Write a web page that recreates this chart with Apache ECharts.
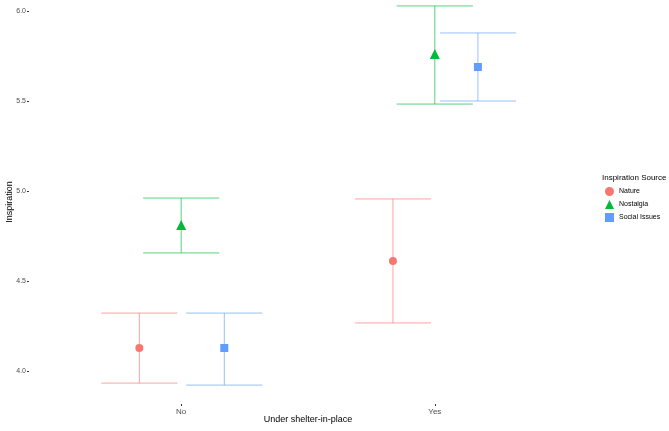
<!DOCTYPE html>
<html>
<head>
<meta charset="utf-8">
<script src="https://cdn.jsdelivr.net/npm/echarts@6/dist/echarts.min.js"></script>
<style>
  html, body { margin: 0; padding: 0; background: #fff; }
  #chart { width: 669px; height: 431px; }
</style>
</head>
<body>
<div id="chart"></div>
<script>
// x categories
const categories = ['No', 'Yes']
const yTicks = [4.0, 4.5, 5.0, 5.5, 6.0]

// mean and error bar bounds per source, one value per category
const natureMean = [4.128, 4.611]
const natureLow = [3.933, 4.267]
const natureHigh = [4.322, 4.956]

const nostalgiaMean = [4.811, 5.761]
const nostalgiaLow = [4.656, 5.483]
const nostalgiaHigh = [4.961, 6.028]

const socialMean = [4.128, 5.689]
const socialLow = [3.922, 5.500]
const socialHigh = [4.322, 5.878]

const groups = [
  { name: 'Nature', color: '#F8766D', symbol: 'circle', size: 8, dodge: -0.165, mean: natureMean, low: natureLow, high: natureHigh },
  { name: 'Nostalgia', color: '#00BA38', symbol: 'triangle', size: 10, dodge: 0, mean: nostalgiaMean, low: nostalgiaLow, high: nostalgiaHigh },
  { name: 'Social Issues', color: '#619CFF', symbol: 'rect', size: 8, dodge: 0.17, mean: socialMean, low: socialLow, high: socialHigh }
]

const capHalf = 0.15
const font = 'Liberation Sans, Arial, sans-serif'

const chart = echarts.init(document.getElementById('chart'))

const series = []
groups.forEach(g => {
  // error bars
  series.push({
    name: g.name,
    type: 'custom',
    renderItem: (params, api) => {
      const x = api.value(0)
      const lo = api.coord([x, api.value(1)])
      const hi = api.coord([x, api.value(2)])
      const loL = api.coord([x - capHalf, api.value(1)])
      const loR = api.coord([x + capHalf, api.value(1)])
      const hiL = api.coord([x - capHalf, api.value(2)])
      const hiR = api.coord([x + capHalf, api.value(2)])
      const style = { stroke: g.color, lineWidth: 1, opacity: 0.65 }
      return {
        type: 'group',
        children: [
          { type: 'line', shape: { x1: lo[0], y1: lo[1], x2: hi[0], y2: hi[1] }, style },
          { type: 'line', shape: { x1: loL[0], y1: loL[1], x2: loR[0], y2: loR[1] }, style },
          { type: 'line', shape: { x1: hiL[0], y1: hiL[1], x2: hiR[0], y2: hiR[1] }, style }
        ]
      }
    },
    encode: { x: 0, y: [1, 2] },
    data: categories.map((c, i) => [i + 1 + g.dodge, g.low[i], g.high[i]]),
    z: 1,
    silent: true
  })
  // points
  series.push({
    name: g.name,
    type: 'scatter',
    symbol: g.symbol,
    symbolSize: g.size,
    itemStyle: { color: g.color, opacity: 1 },
    data: categories.map((c, i) => [i + 1 + g.dodge, g.mean[i]]),
    z: 2
  })
})

chart.setOption({
  animation: false,
  textStyle: { fontFamily: font },
  title: {
    text: 'Inspiration Source',
    left: 597,
    top: 169,
    textStyle: { fontSize: 8, fontWeight: 'normal', color: '#000', fontFamily: font }
  },
  legend: {
    data: groups.map(g => ({ name: g.name, icon: g.symbol })),
    orient: 'vertical',
    left: 600,
    top: 182,
    itemWidth: 9,
    itemHeight: 9,
    itemGap: 4,
    textStyle: { fontSize: 7, color: '#000', fontFamily: font }
  },
  color: groups.map(g => g.color),
  grid: { left: 29, right: 82, top: 0, bottom: 27, outerBoundsMode: 'none', containLabel: false },
  xAxis: {
    type: 'value',
    min: 0.4,
    max: 2.6,
    name: 'Under shelter-in-place',
    nameLocation: 'middle',
    nameGap: 11,
    nameMoveOverlap: false,
    nameTextStyle: { fontSize: 9, color: '#000', fontFamily: font },
    axisLine: { show: false },
    splitLine: { show: false },
    axisTick: { show: true, length: 2, customValues: [1, 2], lineStyle: { color: '#333' } },
    axisLabel: {
      customValues: [1, 2],
      fontSize: 8,
      color: '#4d4d4d',
      margin: 4,
      formatter: v => categories[Math.round(v) - 1] || ''
    }
  },
  yAxis: {
    type: 'value',
    min: 3.817,
    max: 6.061,
    name: 'Inspiration',
    nameLocation: 'middle',
    nameGap: 15,
    nameMoveOverlap: false,
    nameTextStyle: { fontSize: 9, color: '#000', fontFamily: font },
    axisLine: { show: false },
    splitLine: { show: false },
    axisTick: { show: true, length: 2, customValues: yTicks, lineStyle: { color: '#333' } },
    axisLabel: {
      customValues: yTicks,
      fontSize: 7,
      color: '#4d4d4d',
      margin: 3,
      formatter: v => v.toFixed(1)
    }
  },
  series
})
</script>
</body>
</html>
